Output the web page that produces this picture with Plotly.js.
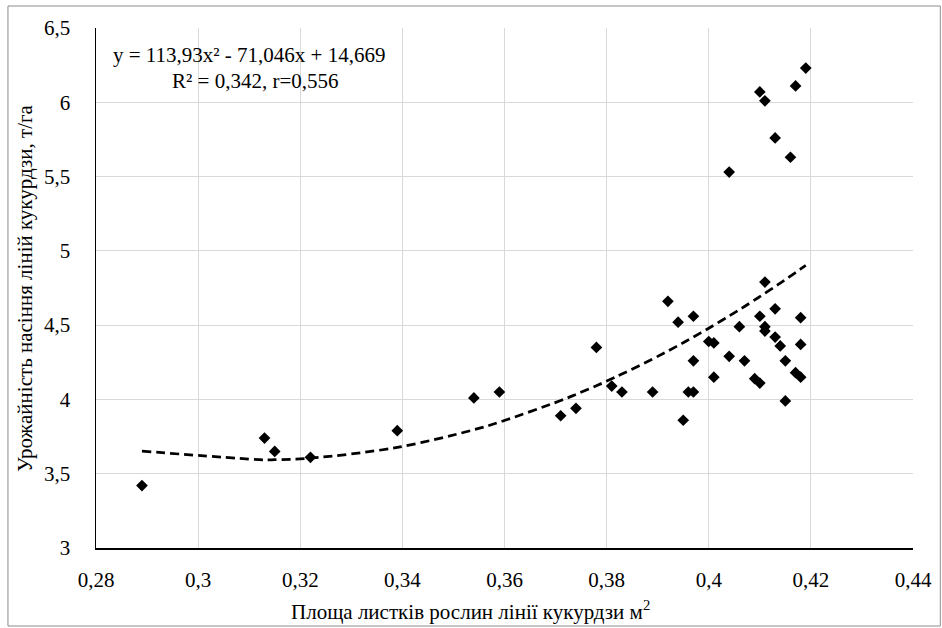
<!DOCTYPE html>
<html>
<head>
<meta charset="utf-8">
<script src="https://cdn.plot.ly/plotly-3.0.1.min.js"></script>
<style>
html,body{margin:0;padding:0;background:#fff;}
#chart{width:942px;height:628px;}
</style>
</head>
<body>
<div id="chart"></div>
<script>
// Leaf area of plants (m²)
const leafArea = [0.289,0.313,0.315,0.322,0.339,0.354,0.359,0.371,0.374,0.378,0.381,0.383,0.389,0.392,0.394,0.395,0.396,0.397,0.397,0.397,0.400,0.401,0.401,0.404,0.404,0.406,0.407,0.409,0.410,0.410,0.410,0.411,0.411,0.411,0.411,0.413,0.413,0.413,0.414,0.415,0.415,0.416,0.417,0.417,0.418,0.418,0.418,0.419];
// Seed yield (t/ha)
const seedYield = [3.42,3.74,3.65,3.61,3.79,4.01,4.05,3.89,3.94,4.35,4.09,4.05,4.05,4.66,4.52,3.86,4.05,4.05,4.56,4.26,4.39,4.38,4.15,4.29,5.53,4.49,4.26,4.14,4.11,4.56,6.07,6.01,4.79,4.49,4.46,4.61,5.76,4.42,4.36,4.26,3.99,5.63,6.11,4.18,4.15,4.37,4.55,6.23];
// Polynomial trendline coefficients (a, b, c) as shown in the chart: y = a x² + b x + c
const trendCoef = [113.93, -71.046, 14.669];
const equationText = ["y = 113,93x² - 71,046x + 14,669", "R² = 0,342, r=0,556"];
const xTitle = "Площа листків рослин лінії кукурдзи м<sup>2</sup>";
const yTitle = "Урожайність насіння ліній кукурдзи, т/га";

const trendX = Array.from(new Set(leafArea)).sort((a,b)=>a-b);
const trendY = trendX.map(x => trendCoef[0]*x*x + trendCoef[1]*x + trendCoef[2]);

const FONT = "Liberation Serif";

const traces = [
  {
    x: leafArea, y: seedYield, type: 'scatter', mode: 'markers',
    marker: {symbol: 'diamond', size: 9, color: '#000'},
    hoverinfo: 'x+y', showlegend: false
  },
  {
    x: trendX, y: trendY, type: 'scatter', mode: 'lines',
    line: {color: '#000', width: 2.75, dash: '9px,5px', shape: 'spline'},
    hoverinfo: 'skip', showlegend: false
  }
];

const L = 96, R = 29.3, T = 28, B = 80;
const pw = 942 - L - R, ph = 628 - T - B;
const px = v => (v - L) / pw;
const py = v => (628 - B - v) / ph;

const layout = {
  width: 942, height: 628,
  margin: {l: L, r: R, t: T, b: B, pad: 0},
  paper_bgcolor: '#fff', plot_bgcolor: '#fff',
  separators: ', ',
  font: {family: FONT, color: '#000', size: 21},
  showlegend: false,
  xaxis: {
    range: [0.28, 0.44], tick0: 0.28, dtick: 0.02, autorange: false,
    showgrid: true, gridcolor: '#d9d9d9', gridwidth: 1,
    zeroline: false, showline: true, linecolor: '#000', linewidth: 1.5,
    ticks: '', ticklabelstandoff: 12,
    tickfont: {family: FONT, size: 21, color: '#000'}
  },
  yaxis: {
    range: [3, 6.5], tick0: 3, dtick: 0.5, autorange: false,
    showgrid: true, gridcolor: '#d9d9d9', gridwidth: 1,
    zeroline: false, showline: true, linecolor: '#000', linewidth: 1.5,
    ticks: '', ticklabelstandoff: 20,
    tickfont: {family: FONT, size: 21, color: '#000'}
  },
  annotations: [
    {xref: 'paper', yref: 'paper', x: px(111), y: py(55), xanchor: 'left', yanchor: 'middle',
     text: equationText[0], showarrow: false, font: {family: FONT, size: 21, color: '#000'}},
    {xref: 'paper', yref: 'paper', x: px(170), y: py(81), xanchor: 'left', yanchor: 'middle',
     text: equationText[1], showarrow: false, font: {family: FONT, size: 21, color: '#000'}},
    {xref: 'paper', yref: 'paper', x: px(470), y: py(610), xanchor: 'center', yanchor: 'middle',
     text: xTitle, showarrow: false, font: {family: FONT, size: 21, color: '#000'}},
    {xref: 'paper', yref: 'paper', x: px(25), y: py(288), xanchor: 'center', yanchor: 'middle',
     text: yTitle, textangle: -90, showarrow: false, font: {family: FONT, size: 21, color: '#000'}}
  ],
  shapes: [
    {type: 'rect', xref: 'paper', yref: 'paper', x0: px(8), x1: px(940), y0: py(626), y1: py(6),
     line: {color: '#8c8c8c', width: 1}, fillcolor: 'rgba(0,0,0,0)', layer: 'below'}
  ]
};

Plotly.newPlot('chart', traces, layout, {displayModeBar: false, staticPlot: true});
</script>
</body>
</html>
